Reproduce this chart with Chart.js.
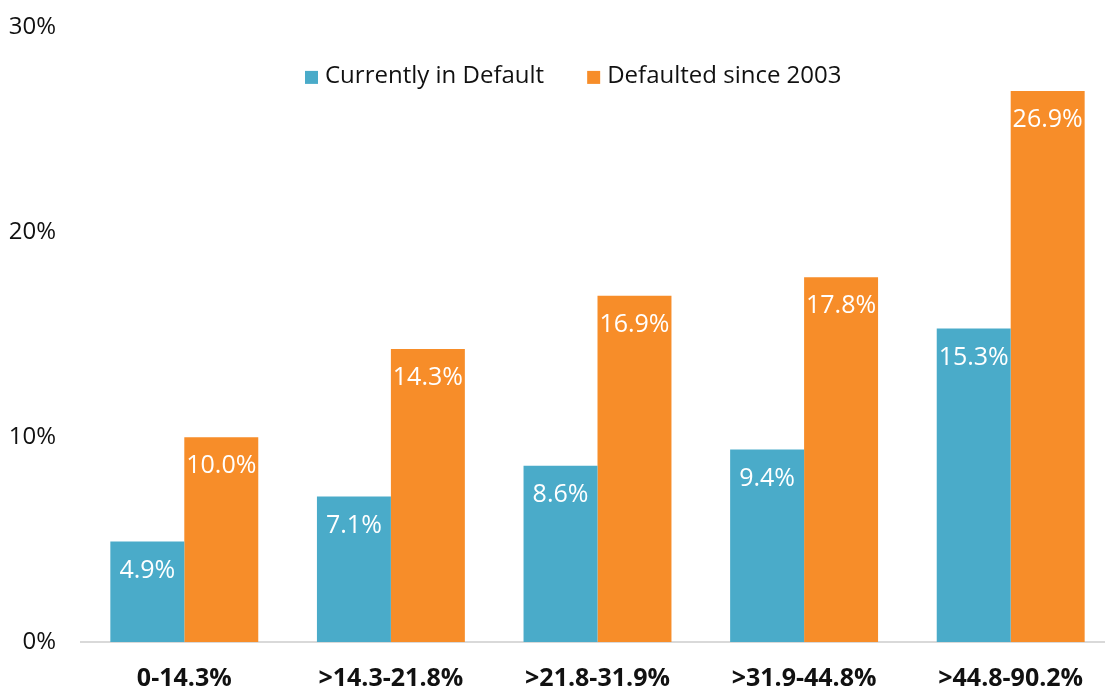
<!DOCTYPE html>
<html>
<head>
<meta charset="utf-8">
<script src="https://cdn.jsdelivr.net/npm/chart.js@4/dist/chart.umd.min.js"></script>
<style>
  html, body { margin: 0; padding: 0; background: #fff; overflow: hidden; }
  #wrap { position: absolute; left: 0; top: -12px; width: 1114px; height: 704px; }
</style>
</head>
<body>
<div id="wrap"><canvas id="c"></canvas></div>
<script>
const categories = ["0-14.3%", ">14.3-21.8%", ">21.8-31.9%", ">31.9-44.8%", ">44.8-90.2%"];
const currentlyInDefault = [4.9, 7.1, 8.6, 9.4, 15.3];
const defaultedSince2003 = [10.0, 14.3, 16.9, 17.8, 26.9];
const yTicks = [0, 10, 20, 30];
const seriesNames = ["Currently in Default", "Defaulted since 2003"];
const seriesColors = ['#4AABC9', '#F78D29'];

const FONT = "'Open Sans', 'Noto Sans', sans-serif";

const valueLabels = {
  id: 'valueLabels',
  afterDatasetsDraw(chart) {
    const ctx = chart.ctx;
    ctx.save();
    ctx.fillStyle = '#ffffff';
    ctx.font = "25px " + FONT;
    ctx.textAlign = 'center';
    ctx.textBaseline = 'middle';
    chart.data.datasets.forEach((ds, i) => {
      const meta = chart.getDatasetMeta(i);
      meta.data.forEach((bar, j) => {
        ctx.fillText(ds.data[j].toFixed(1) + '%', bar.x, bar.y + 29);
      });
    });
    ctx.restore();
  }
};

const topLegend = {
  id: 'topLegend',
  afterDraw(chart) {
    const ctx = chart.ctx;
    ctx.save();
    ctx.font = "24px " + FONT;
    ctx.textBaseline = 'middle';
    ctx.textAlign = 'left';
    const box = 13, gap = 7, itemGap = 43;
    let x = 305;
    const y = chart.chartArea.top + 49;
    chart.data.datasets.forEach((ds) => {
      ctx.fillStyle = ds.backgroundColor;
      ctx.fillRect(x, y - box / 2 + 1, box, box);
      x += box + gap;
      ctx.fillStyle = '#111111';
      ctx.fillText(ds.label, x, y);
      x += ctx.measureText(ds.label).width + itemGap;
    });
    ctx.restore();
  }
};

new Chart(document.getElementById('c'), {
  type: 'bar',
  data: {
    labels: categories,
    datasets: [
      { label: seriesNames[0], data: currentlyInDefault, backgroundColor: seriesColors[0], borderWidth: 0 },
      { label: seriesNames[1], data: defaultedSince2003, backgroundColor: seriesColors[1], borderWidth: 0 }
    ]
  },
  options: {
    responsive: true,
    maintainAspectRatio: false,
    animation: false,
    devicePixelRatio: 1,
    layout: { padding: { top: 12, right: 0, bottom: 0, left: 0 } },
    plugins: {
      tooltip: { enabled: false },
      legend: { display: false }
    },
    datasets: { bar: { categoryPercentage: 0.716, barPercentage: 1.0 } },
    scales: {
      x: {
        grid: { display: false, drawTicks: false },
        border: { display: true, color: '#d9d9d9', width: 2 },
        ticks: { color: '#111111', padding: 22, font: { family: FONT, size: 25, weight: 'bold' } },
        afterFit(scale) { scale.height = 50; }
      },
      y: {
        min: 0, max: 30,
        afterBuildTicks(scale) { scale.ticks = yTicks.map(v => ({ value: v })); },
        grid: { display: false, drawTicks: false },
        border: { display: false },
        ticks: { color: '#111111', padding: 25, font: { family: FONT, size: 24 }, callback: v => v + '%' },
        afterFit(scale) { scale.width = 81; }
      }
    }
  },
  plugins: [valueLabels, topLegend]
});
</script>
</body>
</html>
